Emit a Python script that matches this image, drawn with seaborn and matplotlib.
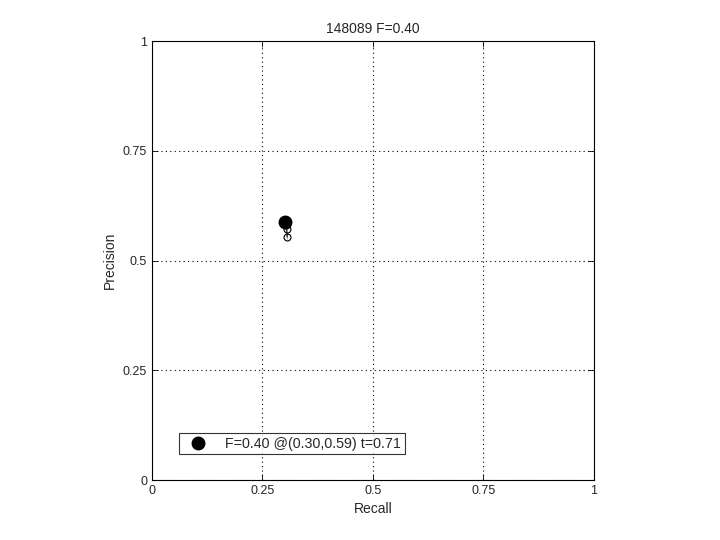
import numpy as np
import pandas as pd
import seaborn as sns
import matplotlib
matplotlib.use('Agg')
import matplotlib.pyplot as plt

# PR curve points
recall = [0.303, 0.304, 0.305, 0.306, 0.306]
precision = [0.588, 0.581, 0.572, 0.560, 0.547]
best_recall = [0.30]
best_precision = [0.588]
best_label = 'F=0.40 @(0.30,0.59) t=0.71'
ticks = [0, 0.25, 0.5, 0.75, 1]
tick_labels = ['0', '0.25', '0.5', '0.75', '1']

sns.set_style('white')
plt.rcParams['font.family'] = ['Liberation Sans', 'DejaVu Sans']

fig = plt.figure(figsize=(7.2, 5.4), dpi=100)
ax = fig.add_axes([0.211, 0.111, 0.614, 0.813])

curve = pd.DataFrame({'Recall': recall, 'Precision': precision})
sns.lineplot(data=curve, x='Recall', y='Precision', sort=False, ax=ax,
             color='black', linewidth=0.8, marker='o', markersize=5,
             markerfacecolor='none', markeredgecolor='black', markeredgewidth=0.8)

best = pd.DataFrame({'Recall': best_recall, 'Precision': best_precision})
ax.plot(best['Recall'], best['Precision'], 'o', color='black', markersize=9,
        label=best_label)

ax.set_xlim(0, 1)
ax.set_ylim(0, 1)
ax.set_xticks(ticks)
ax.set_xticklabels(tick_labels)
ax.set_yticks(ticks)
ax.set_yticklabels(tick_labels)
ax.grid(True, color='black', linestyle=(0, (1, 3)), linewidth=0.8)
ax.tick_params(direction='in', length=4, labelsize=9, top=True, right=True,
               bottom=True, left=True, color='black', width=0.6)
for s in ax.spines.values():
    s.set_color('black')
    s.set_linewidth(0.8)
ax.set_xlabel('Recall', fontsize=10)
ax.set_ylabel('Precision', fontsize=10)
ax.set_title('148089 F=0.40', fontsize=10)

leg = ax.legend(loc='lower left', bbox_to_anchor=(0.061, 0.059), fontsize=10.3,
                frameon=True, fancybox=False, borderpad=0.25, handletextpad=0.8,
                handlelength=2.2, borderaxespad=0)
leg.get_frame().set_edgecolor('black')
leg.get_frame().set_linewidth(0.8)

fig.savefig('out.png', dpi=100)
